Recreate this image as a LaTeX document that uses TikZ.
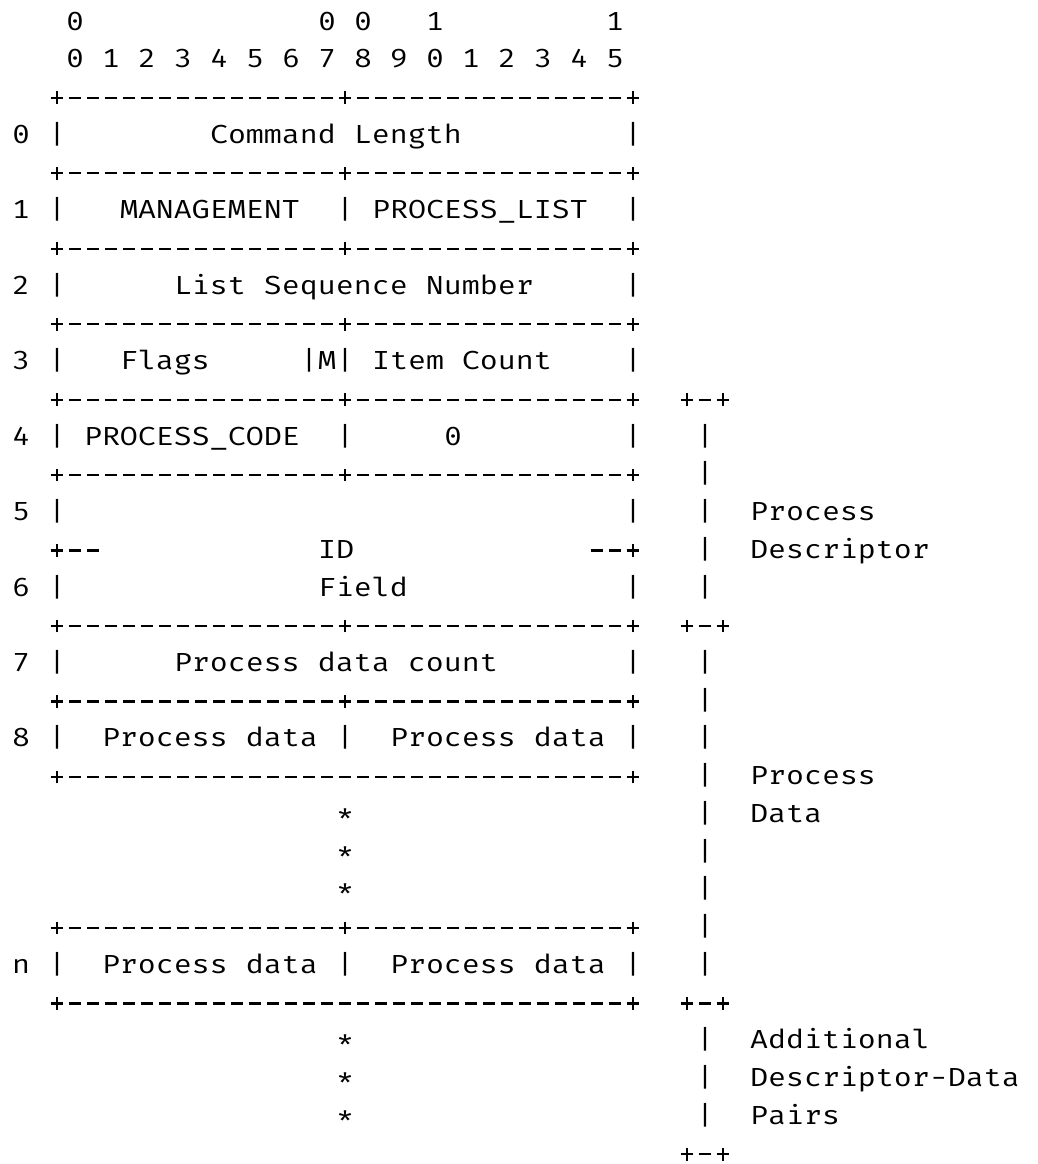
\documentclass[tikz,border=0pt]{standalone}
\usepackage{fontspec}
\newfontfamily\asc[FakeStretch=1.1485]{Fira Mono}
% ASCII-art border glyphs, sized like the reference's + and -
\newcommand\dsh{\makebox[9pt][c]{\rule[3.275pt]{6.15pt}{1.15pt}}}
\newcommand\pls{\makebox[9pt][c]{\rlap{\rule[3.275pt]{6.35pt}{1.15pt}}\hspace{2.6pt}\rule[0.7pt]{1.15pt}{6.35pt}\hspace{2.6pt}}}
\newcommand\dashrun[1]{\foreach\k in {1,...,#1}{\dsh}}
\newcommand\brd{\pls\dashrun{15}\pls\dashrun{15}\pls}
\newcommand\brdfull{\pls\dashrun{31}\pls}
\tikzset{
  ch/.style={font={\asc\fontsize{13.06pt}{15pt}\selectfont}, inner sep=0pt, outer sep=0pt, anchor=base west, text=black},
}
\begin{document}
\begin{tikzpicture}[x=9pt,y=-18.865pt]
\fill[white] (-0.6667,0.2022) rectangle (57.0,31.053);
\useasboundingbox (-0.6667,0.2022) rectangle (57.0,31.053);
% header
\node[ch] (h1a) at (3,1) {0};
\node[ch] (h1b) at (17,1) {0};
\node[ch] (h1c) at (19,1) {0};
\node[ch] (h1d) at (23,1) {1};
\node[ch] (h1e) at (33,1) {1};
\foreach \d [count=\i from 0] in {0,1,2,3,4,5,6,7,8,9,0,1,2,3,4,5}
  \node[ch] (h2\i) at (3+2*\i,2) {\d};
% row labels and side bars
\foreach \r/\l in {4/0,6/1,8/2,10/3,12/4,14/5,16/6,18/7,20/8,26/n} {
  \node[ch] (rl\r) at (0,\r) {\l};
  \node[ch] (lb\r) at (2,\r) {|};
  \node[ch] (rb\r) at (34,\r) {|};
}
% borders
\foreach \r in {3,5,7,9,11,13,17,19,25}
  \node[ch] (bd\r) at (2,\r) {\brd};
\foreach \r in {21,27}
  \node[ch] (bf\r) at (2,\r) {\brdfull};
\node[ch] (idl) at (2,15) {\pls\dsh\dsh};
\node[ch] (idr) at (32,15) {\dsh\dsh\pls};
% inner bars
\foreach \r in {6,12,20,26}
  \node[ch] (ib\r) at (18,\r) {|};
\node[ch] (mbit) at (16,10) {|M|};
% field texts
\node[ch] (cmdlen) at (11,4) {Command Length};
\node[ch] (mgmt) at (6,6) {MANAGEMENT};
\node[ch] (plist) at (20,6) {PROCESS\_LIST};
\node[ch] (lsn) at (9,8) {List Sequence Number};
\node[ch] (flags) at (6,10) {Flags};
\node[ch] (icount) at (20,10) {Item Count};
\node[ch] (pcode) at (4,12) {PROCESS\_CODE};
\node[ch] (zero) at (24,12) {0};
\node[ch] (idtxt) at (17,15) {ID};
\node[ch] (fieldtxt) at (17,16) {Field};
\node[ch] (pdc) at (9,18) {Process data count};
\node[ch] (pd8a) at (5,20) {Process data};
\node[ch] (pd8b) at (21,20) {Process data};
\node[ch] (pdna) at (5,26) {Process data};
\node[ch] (pdnb) at (21,26) {Process data};
% stars
\foreach \r in {22,23,24,28,29,30}
  \node[ch] (st\r) at (18,\r) {*};
% right brackets
\foreach \r in {11,17,27,31}
  \node[ch] (rbk\r) at (37,\r) {\pls\dsh\pls};
\foreach \r in {12,13,14,15,16,18,19,20,21,22,23,24,25,26,28,29,30}
  \node[ch] (rbar\r) at (38,\r) {|};
\node[ch] (pdesc1) at (41,14) {Process};
\node[ch] (pdesc2) at (41,15) {Descriptor};
\node[ch] (pdat1) at (41,21) {Process};
\node[ch] (pdat2) at (41,22) {Data};
\node[ch] (add1) at (41,28) {Additional};
\node[ch] (add2) at (41,29) {Descriptor-Data};
\node[ch] (add3) at (41,30) {Pairs};
\end{tikzpicture}
\end{document}
